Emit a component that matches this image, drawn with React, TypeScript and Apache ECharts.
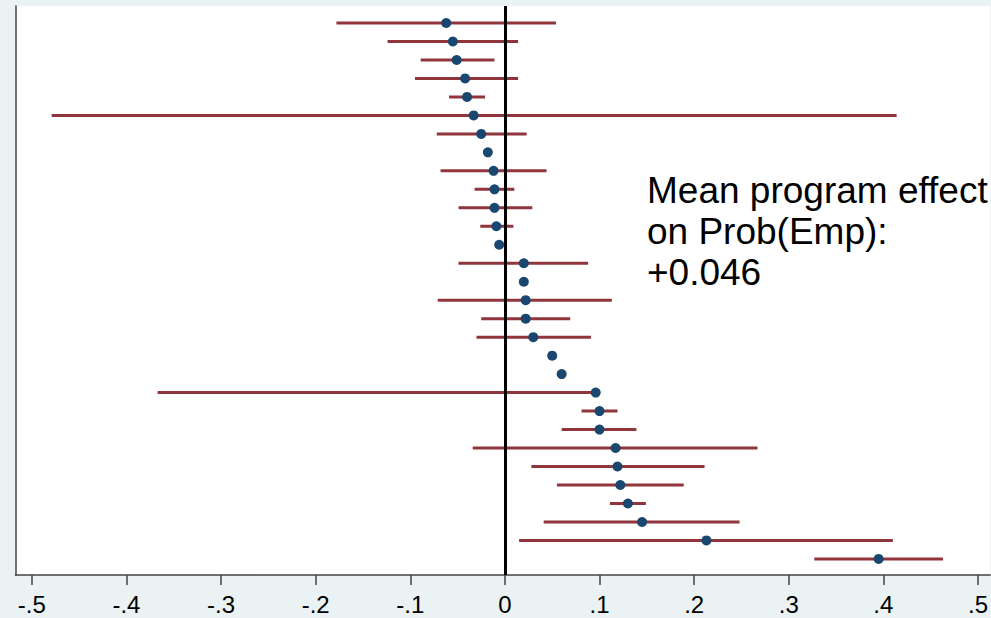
import React, { useEffect, useRef } from "react";
import * as echarts from "echarts";

// Point estimates (top row first)
const estimates: number[] = [
  -0.062, -0.055, -0.051, -0.042, -0.040, -0.033, -0.025, -0.018, -0.012, -0.011,
  -0.011, -0.009, -0.006, 0.020, 0.020, 0.022, 0.022, 0.030, 0.050, 0.060,
  0.096, 0.100, 0.100, 0.117, 0.119, 0.122, 0.130, 0.145, 0.213, 0.395,
];
// Lower bounds of intervals (null = no interval drawn)
const lower: (number | null)[] = [
  -0.178, -0.124, -0.089, -0.095, -0.059, -0.479, -0.072, null, -0.068, -0.032,
  -0.049, -0.026, null, -0.049, null, -0.071, -0.025, -0.030, null, null,
  -0.367, 0.081, 0.060, -0.034, 0.028, 0.055, 0.111, 0.041, 0.015, 0.327,
];
// Upper bounds of intervals
const upper: (number | null)[] = [
  0.054, 0.014, -0.011, 0.014, -0.021, 0.414, 0.023, null, 0.044, 0.010,
  0.029, 0.009, null, 0.088, null, 0.113, 0.069, 0.091, null, null,
  0.096, 0.119, 0.139, 0.267, 0.211, 0.189, 0.149, 0.248, 0.410, 0.463,
];
const xTicks: number[] = [-0.5, -0.4, -0.3, -0.2, -0.1, 0, 0.1, 0.2, 0.3, 0.4, 0.5];
const annotation: string[] = ["Mean program effect", "on Prob(Emp):", "+0.046"];

const FONT = "'Liberation Sans', Arial, Helvetica, sans-serif";

function fmtTick(v: number): string {
  const r = Math.round(v * 10);
  if (r === 0) return "0";
  return (r < 0 ? "-" : "") + "." + Math.abs(r);
}

export default function App() {
  const ref = useRef<HTMLDivElement>(null);
  useEffect(() => {
    if (!ref.current) return;
    const chart = echarts.init(ref.current, null, { renderer: "svg" });
    const rows = estimates.map((_, i) => i + 1);
    const ciData = rows
      .map((r, i) => (lower[i] !== null && upper[i] !== null ? [lower[i], upper[i], r] : null))
      .filter((d) => d !== null) as number[][];
    const ptData = rows.map((r, i) => [estimates[i], r]);

    chart.setOption({
      animation: false,
      backgroundColor: "#eaf2f3",
      grid: {
        left: 15.5,
        right: 0,
        top: 6,
        bottom: 43,
        show: true,
        backgroundColor: "#ffffff",
        borderWidth: 0,
        containLabel: false,
      },
      xAxis: {
        type: "value",
        min: -0.5172,
        max: 0.5129,
        splitLine: { show: false },
        axisLine: { show: true, onZero: false, lineStyle: { color: "#444", width: 1.5 } },
        axisTick: {
          show: true,
          length: 10,
          customValues: xTicks,
          lineStyle: { color: "#444", width: 1.5 },
        },
        axisLabel: {
          customValues: xTicks,
          formatter: (v: number) => fmtTick(v),
          color: "#000",
          fontSize: 24,
          fontFamily: FONT,
          margin: 17,
        },
      },
      yAxis: {
        type: "value",
        inverse: true,
        min: 0.08,
        max: 30.87,
        splitLine: { show: false },
        axisLine: { show: true, onZero: false, lineStyle: { color: "#444", width: 1.5 } },
        axisTick: { show: false },
        axisLabel: { show: false },
      },
      series: [
        {
          type: "custom",
          z: 2,
          data: ciData,
          renderItem: (params: any, api: any) => {
            const p1 = api.coord([api.value(0), api.value(2)]);
            const p2 = api.coord([api.value(1), api.value(2)]);
            return {
              type: "line",
              shape: { x1: p1[0], y1: p1[1], x2: p2[0], y2: p2[1] },
              style: { stroke: "#90353b", lineWidth: 3 },
            };
          },
        },
        {
          type: "scatter",
          z: 4,
          data: ptData,
          symbol: "circle",
          symbolSize: 10,
          itemStyle: { color: "#1a476f", opacity: 1 },
          markLine: {
            silent: true,
            symbol: ["none", "none"],
            label: { show: false },
            lineStyle: { color: "#000", width: 3, type: "solid", opacity: 1 },
            data: [{ xAxis: 0 }],
            z: 3,
          },
        },
      ],
      graphic: [
        {
          type: "text",
          left: 647,
          top: 170,
          z: 10,
          style: {
            text: annotation.join("\n"),
            fontSize: 37,
            lineHeight: 41,
            fontFamily: FONT,
            fill: "#000",
          },
        },
      ],
    });
    return () => chart.dispose();
  }, []);
  return (
    <div
      ref={ref}
      style={{ position: "fixed", left: 0, top: 0, width: 991, height: 618 }}
    />
  );
}
